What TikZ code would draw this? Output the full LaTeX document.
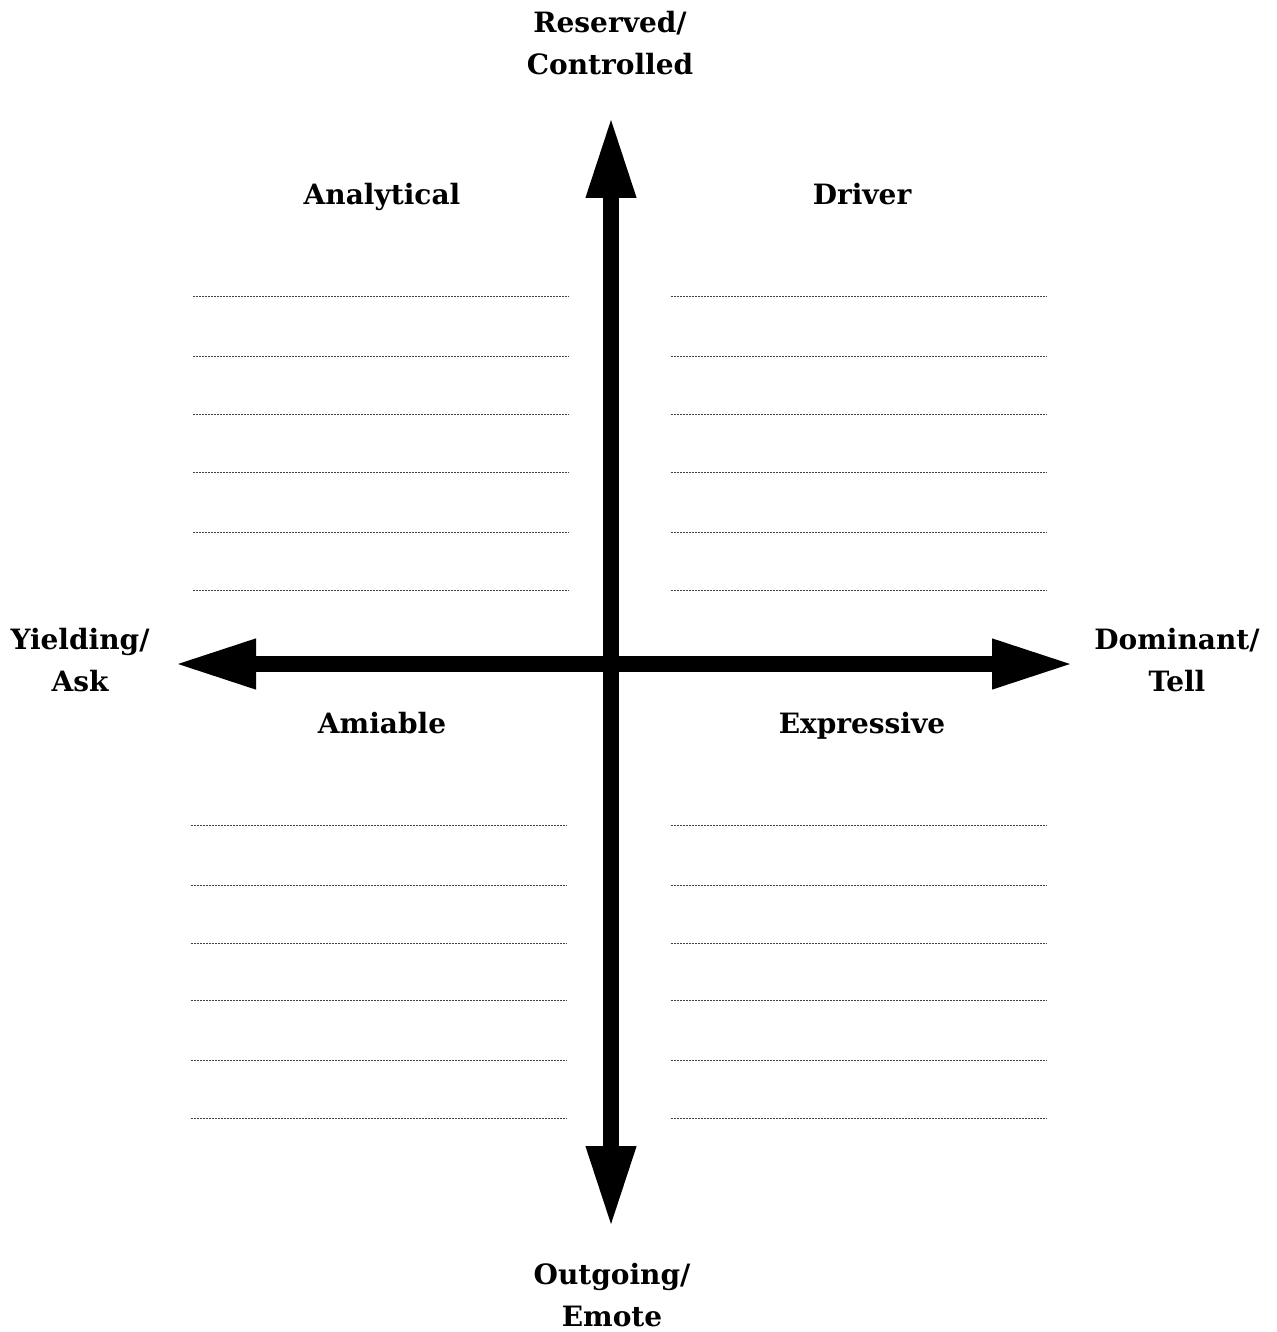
\documentclass[tikz,border=0pt]{standalone}
\usepackage{fontspec}
\setmainfont{DejaVu Serif}
\usetikzlibrary{arrows.meta}
\begin{document}
\begin{tikzpicture}[x=1pt,y=-1pt,
  axis/.style={line width=16pt,
    {Triangle[length=82pt,width=46pt]}-{Triangle[length=82pt,width=46pt]}},
  label/.style={font=\fontsize{28}{42}\selectfont\bfseries, align=center, inner sep=0pt},
  title/.style={label, anchor=base},
  writeline/.style={line width=1pt, black!75, dash pattern=on 2pt off 1pt}]
  \useasboundingbox (0,0) rectangle (1276,1332);

  % axis ends
  \coordinate (top) at (611,116);
  \coordinate (bottom) at (611,1228);
  \coordinate (left) at (174,664);
  \coordinate (right) at (1074,664);

  \draw[axis] (bottom) -- (top);
  \draw[axis] (left) -- (right);

  % axis labels
  \node[label] (reserved) at (610,43) {Reserved/\\Controlled};
  \node[label] (outgoing) at (612,1295) {Outgoing/\\Emote};
  \node[label] (yielding) at (80,660) {Yielding/\\Ask};
  \node[label] (dominant) at (1177,660) {Dominant/\\Tell};

  % quadrant titles
  \node[title] (analytical) at (382,205) {Analytical};
  \node[title] (driver) at (862,205) {Driver};
  \node[title] (amiable) at (382,733) {Amiable};
  \node[title] (expressive) at (862,733) {Expressive};

  % writing lines, upper half
  \foreach \y in {296,356,414,472,532,590}{
    \draw[writeline] (193,\y) -- (569,\y);
    \draw[writeline] (671,\y) -- (1047,\y);
  }
  % writing lines, lower half
  \foreach \y in {825,885,943,1000,1060,1118}{
    \draw[writeline] (191,\y) -- (567,\y);
    \draw[writeline] (671,\y) -- (1047,\y);
  }
\end{tikzpicture}
\end{document}
